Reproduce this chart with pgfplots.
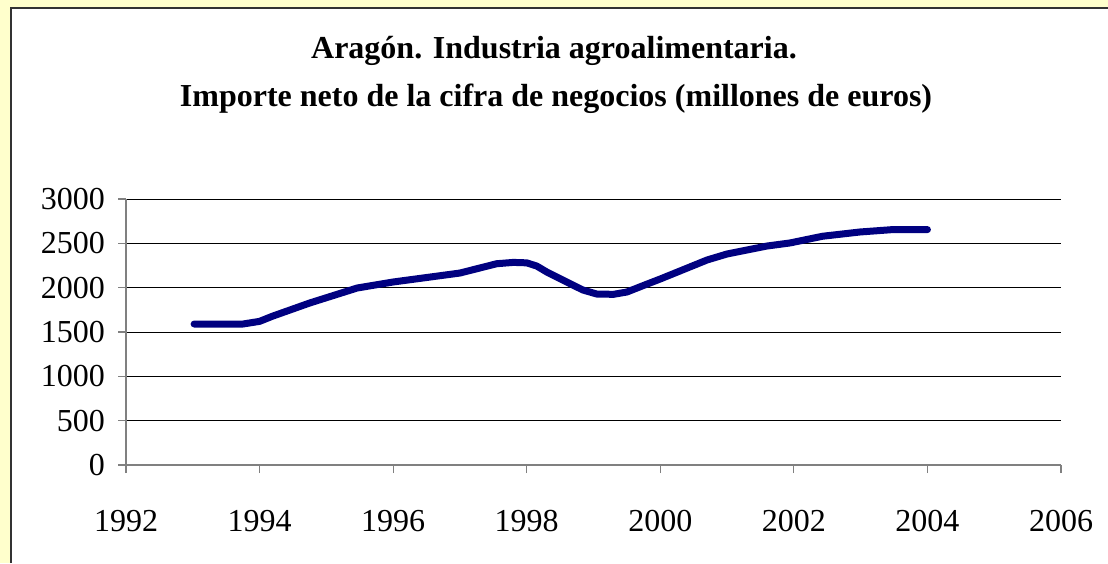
\documentclass[border=0pt]{standalone}
\usepackage{fontspec}
\setmainfont{Liberation Serif}
\usepackage{pgfplots}
\pgfplotsset{compat=1.18}
\definecolor{bgyellow}{HTML}{FFFFCC}
\definecolor{navyline}{HTML}{000080}
\definecolor{axgray}{HTML}{808080}

\begin{document}
\begin{tikzpicture}[x=0.5pt,y=0.5pt]
% frame: yellow strip, white chart area (1px = 0.5pt)
\path[use as bounding box, fill=bgyellow] (0,0) rectangle (1108,563);
\fill[white] (10,0) rectangle (1108,554);
\draw[black!80, line width=1pt] (10.5,0) -- (10.5,554.5) -- (1108,554.5);

\node[anchor=base, font=\fontsize{16}{19}\selectfont\bfseries] at (554,504)
  {Aragón. Industria agroalimentaria.};
\node[anchor=base, font=\fontsize{16}{19}\selectfont\bfseries] at (556,456)
  {Importe neto de la cifra de negocios (millones de euros)};

\begin{axis}[
  at={(63pt,49pt)}, anchor=south west,
  scale only axis, width=467.5pt, height=133pt,
  xmin=1992, xmax=2006, ymin=0, ymax=3000,
  xtick={1992,1994,...,2006}, ytick={0,500,...,3000},
  axis x line*=bottom, axis y line*=left,
  axis line style={axgray, line width=0.6pt},
  tick style={axgray, line width=0.6pt},
  tick align=outside, major tick length=4pt,
  ymajorgrids, grid style={black, line width=0.5pt},
  xticklabel style={font=\fontsize{16}{19}\selectfont, yshift=-15pt},
  yticklabel style={font=\fontsize{16}{19}\selectfont, xshift=-3pt},
  /pgf/number format/.cd, 1000 sep={}, assume math mode=true,
]
\addplot[navyline, line width=3.5pt, line join=round, line cap=round] coordinates {
  (1993.02,1590) (1993.75,1590) (1994.0,1620) (1994.20,1680) (1994.75,1827)
  (1995.46,1996) (1996.0,2064) (1997.0,2165) (1997.55,2270) (1997.8,2285)
  (1998.0,2280) (1998.15,2244) (1998.30,2177) (1998.54,2086) (1998.84,1974)
  (1999.05,1928) (1999.3,1925) (1999.50,1951) (1999.80,2040) (2000.0,2098)
  (2000.70,2312) (2001.0,2380) (2001.6,2470) (2001.94,2504) (2002.43,2580)
  (2002.99,2628) (2003.48,2655) (2004.0,2655)
};
\end{axis}
\end{tikzpicture}
\end{document}
